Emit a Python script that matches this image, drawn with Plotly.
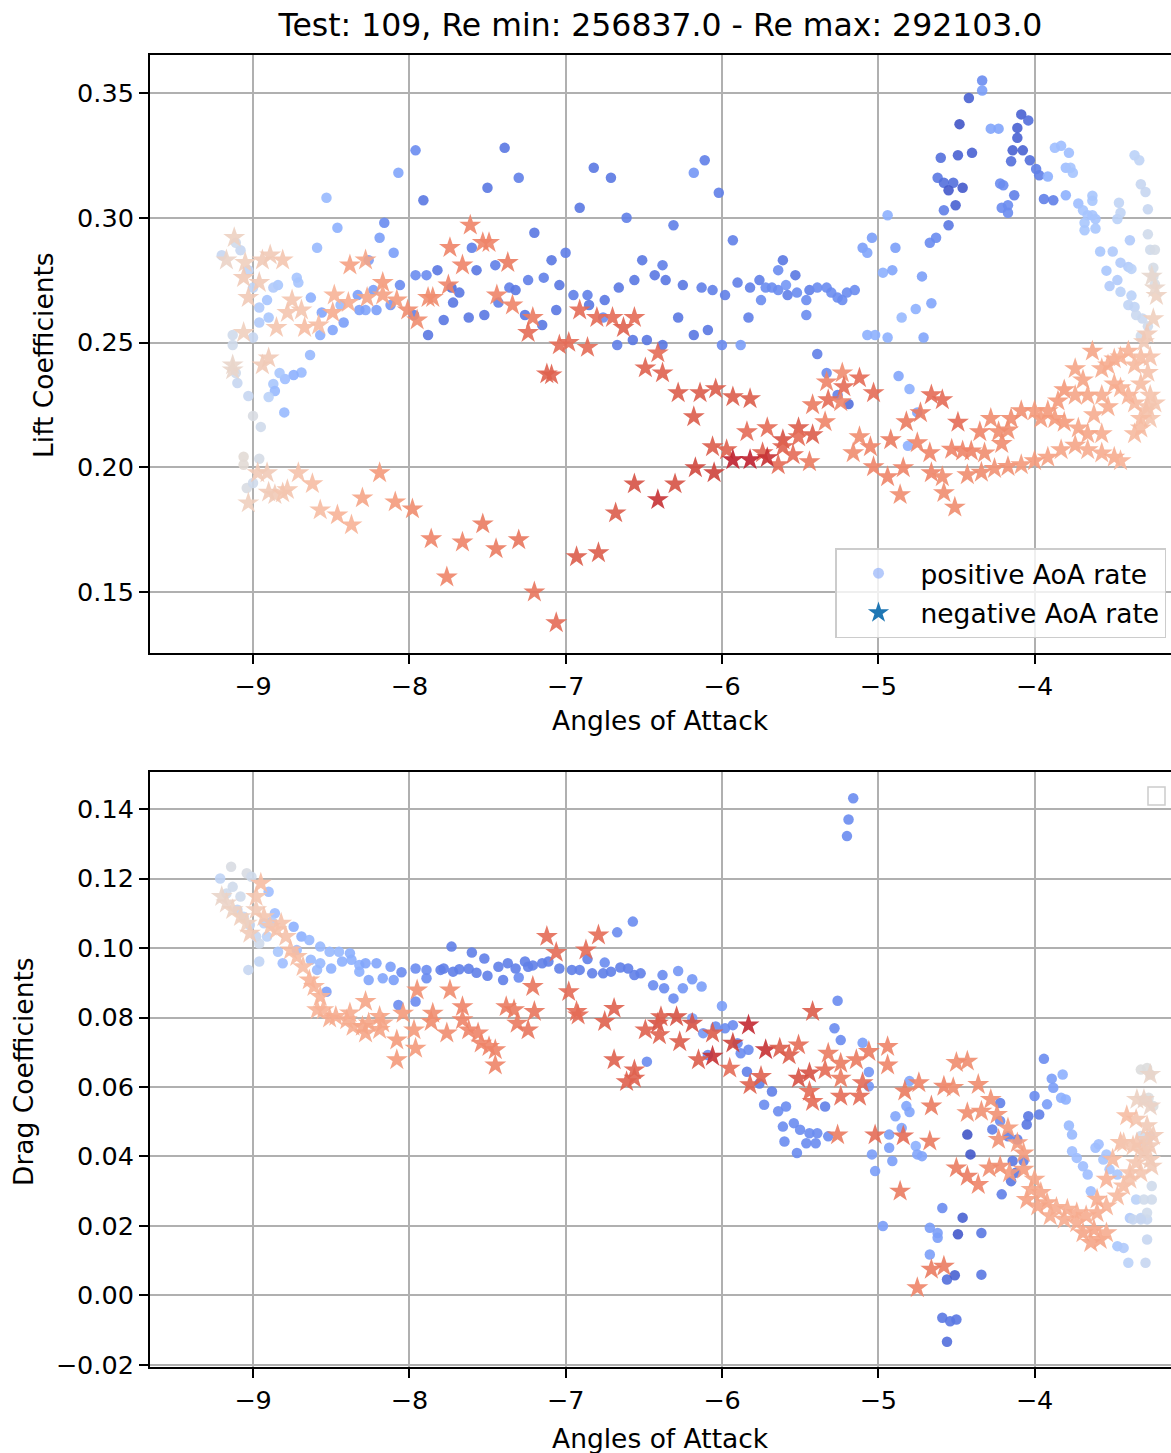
import plotly.graph_objects as go

# ---------------------------------------------------------------------------
# Lift coefficients, positive AoA rate (circles); level = colour-map position
# ---------------------------------------------------------------------------
lift_pos_aoa = [
    -7.96, -8.07, -8.53, -7.91, -7.39, -7.30, -7.50, -7.20, -8.16, -8.46,
    -8.19, -8.10, -8.59, -8.26, -7.60, -7.57, -7.45, -7.82, -7.89, -7.96,
    -8.06, -7.73, -7.68, -7.72, -7.78, -7.62, -7.52, -7.43, -7.36, -7.32,
    -7.24, -7.14, -7.26, -7.15, -7.88, -7.97, -8.23, -8.12, -8.21, -8.28,
    -8.32, -8.33, -8.42, -8.49, -8.57, -8.56, -8.63, -8.72, -8.71, -8.84,
    -8.87, -8.91, -8.96, -8.90, -8.96, -9.03, -9.00, -9.08, -9.11, -9.20,
    -9.13, -9.13, -8.44,
    -6.82, -6.71, -6.91, -6.61, -6.18, -6.11, -6.02, -6.31, -7.00, -7.09,
    -7.04, -7.06, -6.95, -6.86, -6.85, -6.75, -6.76, -6.66, -6.56, -6.51,
    -6.43, -6.38, -6.36, -6.25, -6.28, -6.13, -6.06, -5.98, -5.93, -5.83,
    -5.75, -5.90, -5.82, -5.76, -5.72, -5.68, -5.64, -5.64, -5.61, -5.53,
    -5.59, -5.58, -5.52, -5.46, -5.44, -5.46, -5.39, -5.33, -5.30, -5.26,
    -5.23, -5.20, -5.15, -5.07, -5.02, -4.94, -4.97, -4.91, -4.85, -5.10,
    -5.07, -5.04, -4.89, -4.94, -6.67, -6.57, -6.48, -6.38, -6.18, -6.09,
    -6.00, -5.88,
    -4.335, -4.335, -4.42, -4.48, -4.28, -4.23, -4.085, -4.04, -4.11, -4.11,
    -4.14, -4.075, -4.03, -4.15, -4.60, -4.49, -4.40, -4.62, -4.58, -4.52,
    -4.55, -4.46, -4.505, -4.58, -4.55, -4.67, -4.63, -4.72, -4.66, -4.76,
    -4.71, -4.22, -4.20, -4.13, -4.21, -4.17, -4.17, -3.99, -3.97, -3.915,
    -3.94, -3.88, -3.80, -3.87, -3.83, -3.78, -3.80, -3.77, -3.755, -3.72,
    -3.69, -3.66, -3.63, -3.61, -3.63, -3.63, -3.68, -3.68, -3.61, -3.46,
    -3.47, -3.45, -3.58, -3.50, -3.39, -3.45, -3.40, -3.54, -3.52, -3.47,
    -3.38, -3.45, -3.38, -3.40, -3.36, -3.36, -3.33, -3.32, -3.29, -3.275,
    -3.275, -3.26, -3.23, -3.24, -3.24, -3.23, -3.35, -3.31, -3.275, -3.32,
    -8.635, -8.69, -8.74, -8.795, -8.83, -8.87, -8.86, -8.90, -8.80, -9.10,
    -9.03, -9.00, -8.95, -9.06, -9.06, -8.96, -9.04, -9.00, -9.11, -9.00,
    -5.39, -5.33, -5.26, -5.19, -4.87, -4.80, -4.75, -4.81,
]
lift_pos_cl = [
    0.327, 0.318, 0.308, 0.307, 0.328, 0.316, 0.312, 0.294, 0.298, 0.296,
    0.292, 0.286, 0.288, 0.283, 0.288, 0.279, 0.281, 0.279, 0.277, 0.277,
    0.273, 0.272, 0.270, 0.266, 0.259, 0.260, 0.261, 0.266, 0.272, 0.271,
    0.275, 0.276, 0.261, 0.257, 0.253, 0.261, 0.271, 0.265, 0.263, 0.263,
    0.263, 0.269, 0.258, 0.255, 0.253, 0.262, 0.268, 0.276, 0.274, 0.273,
    0.272, 0.267, 0.264, 0.260, 0.258, 0.279, 0.272, 0.287, 0.290, 0.285,
    0.253, 0.249, 0.265,
    0.320, 0.316, 0.304, 0.300, 0.318, 0.323, 0.310, 0.297, 0.286, 0.283,
    0.273, 0.263, 0.269, 0.269, 0.265, 0.267, 0.260, 0.272, 0.275, 0.283,
    0.277, 0.281, 0.275, 0.273, 0.260, 0.272, 0.271, 0.269, 0.291, 0.260,
    0.267, 0.274, 0.272, 0.275, 0.272, 0.272, 0.271, 0.279, 0.283, 0.277,
    0.273, 0.269, 0.270, 0.267, 0.271, 0.261, 0.272, 0.272, 0.270, 0.268,
    0.267, 0.270, 0.271, 0.253, 0.253, 0.252, 0.278, 0.279, 0.260, 0.288,
    0.286, 0.292, 0.288, 0.301, 0.249, 0.251, 0.251, 0.249, 0.253, 0.255,
    0.249, 0.249,
    0.355, 0.351, 0.348, 0.3375, 0.3357, 0.3357, 0.3414, 0.339, 0.336, 0.332,
    0.327, 0.327, 0.323, 0.3226, 0.324, 0.325, 0.326, 0.316, 0.314, 0.314,
    0.311, 0.312, 0.305, 0.303, 0.297, 0.290, 0.292, 0.2765, 0.2657, 0.2634,
    0.252, 0.3137, 0.313, 0.309, 0.304, 0.305, 0.302, 0.3195, 0.317, 0.3165,
    0.3075, 0.307, 0.309, 0.328, 0.3288, 0.326, 0.320, 0.320, 0.318, 0.3057,
    0.303, 0.301, 0.301, 0.2995, 0.3088, 0.3068, 0.298, 0.295, 0.2957, 0.306,
    0.2995, 0.302, 0.2865, 0.2865, 0.291, 0.282, 0.2803, 0.2788, 0.2726, 0.275,
    0.2795, 0.2703, 0.2688, 0.265, 0.2642, 0.325, 0.323, 0.3134, 0.3103, 0.3034,
    0.2934, 0.2872, 0.2872, 0.280, 0.2765, 0.2734, 0.261, 0.2596, 0.2565, 0.2526,
    0.245, 0.238, 0.237, 0.2354, 0.2378, 0.2334, 0.2306, 0.2282, 0.222, 0.2338,
    0.2286, 0.2206, 0.2162, 0.2042, 0.201, 0.2034, 0.1917, 0.1937, 0.2378, 0.252,
    0.2454, 0.2378, 0.229, 0.2254, 0.2366, 0.2314, 0.222, 0.2086,
]
lift_pos_level = [
    0.15, 0.22, 0.28, 0.10, 0.10, 0.12, 0.10, 0.10, 0.15, 0.25,
    0.20, 0.20, 0.28, 0.20, 0.12, 0.10, 0.12, 0.10, 0.15, 0.15,
    0.15, 0.08, 0.10, 0.10, 0.10, 0.10, 0.10, 0.12, 0.12, 0.10,
    0.12, 0.12, 0.10, 0.10, 0.10, 0.12, 0.20, 0.18, 0.20, 0.22,
    0.20, 0.20, 0.20, 0.22, 0.25, 0.22, 0.25, 0.32, 0.32, 0.33,
    0.35, 0.32, 0.35, 0.33, 0.35, 0.40, 0.40, 0.42, 0.45, 0.42,
    0.45, 0.45, 0.28,
    0.10, 0.10, 0.10, 0.12, 0.18, 0.12, 0.12, 0.12, 0.12, 0.10,
    0.10, 0.10, 0.12, 0.12, 0.10, 0.10, 0.15, 0.10, 0.10, 0.10,
    0.10, 0.12, 0.10, 0.10, 0.10, 0.12, 0.12, 0.12, 0.12, 0.12,
    0.15, 0.12, 0.12, 0.12, 0.15, 0.15, 0.15, 0.15, 0.10, 0.10,
    0.18, 0.12, 0.15, 0.15, 0.12, 0.15, 0.15, 0.15, 0.15, 0.15,
    0.15, 0.15, 0.15, 0.25, 0.25, 0.25, 0.25, 0.22, 0.28, 0.20,
    0.22, 0.20, 0.20, 0.25, 0.12, 0.10, 0.10, 0.10, 0.10, 0.10,
    0.15, 0.20,
    0.15, 0.20, 0.05, 0.02, 0.22, 0.22, 0.05, 0.08, 0.05, 0.05,
    0.05, 0.05, 0.08, 0.08, 0.08, 0.05, 0.05, 0.10, 0.08, 0.08,
    0.03, 0.03, 0.05, 0.12, 0.10, 0.15, 0.15, 0.20, 0.22, 0.25,
    0.22, 0.15, 0.15, 0.12, 0.15, 0.15, 0.15, 0.12, 0.12, 0.25,
    0.12, 0.12, 0.25, 0.30, 0.30, 0.30, 0.30, 0.32, 0.32, 0.30,
    0.32, 0.32, 0.32, 0.32, 0.33, 0.33, 0.33, 0.33, 0.33, 0.40,
    0.38, 0.40, 0.33, 0.35, 0.35, 0.35, 0.35, 0.33, 0.35, 0.35,
    0.38, 0.38, 0.38, 0.40, 0.40, 0.38, 0.40, 0.42, 0.42, 0.42,
    0.45, 0.45, 0.47, 0.47, 0.48, 0.48, 0.43, 0.43, 0.45, 0.45,
    0.28, 0.28, 0.25, 0.30, 0.33, 0.33, 0.28, 0.38, 0.28, 0.42,
    0.42, 0.48, 0.45, 0.52, 0.52, 0.47, 0.48, 0.45, 0.45, 0.42,
    0.12, 0.15, 0.12, 0.08, 0.22, 0.25, 0.22, 0.25,
]

# ---------------------------------------------------------------------------
# Lift coefficients, negative AoA rate (stars)
# ---------------------------------------------------------------------------
lift_neg_aoa = [
    -7.61, -7.74, -7.53, -7.49, -7.66, -7.37, -7.44, -7.34, -7.21, -7.24,
    -7.75, -7.85, -7.88, -7.95, -8.01, -8.08, -8.17, -8.17, -8.27, -8.38,
    -8.28, -8.39, -8.48, -8.49, -8.58, -8.67, -8.85, -8.75, -8.69, -8.78,
    -8.94, -8.81, -8.89, -9.05, -9.06, -8.96, -9.03, -9.12, -9.17, -9.06,
    -6.91, -6.80, -6.70, -6.63, -6.56, -7.04, -6.98, -6.86,
    -7.09, -6.49, -6.38, -6.41, -6.28, -6.14, -6.04, -5.93, -5.82, -6.18,
    -5.84, -5.71, -5.61, -5.51, -5.42, -5.51, -6.06, -5.97, -5.74, -5.61,
    -5.545, -5.44, -5.64, -5.93, -5.82, -5.71, -6.17, -6.05, -6.30, -6.41,
    -6.56, -6.68, -6.79, -6.93, -5.42, -5.34, -5.33, -5.23, -5.22, -5.12,
    -5.03, -5.32, -5.24, -5.12, -5.16, -5.05, -4.92, -4.82, -4.73, -4.75,
    -4.67, -4.66, -4.59, -5.03, -4.94, -4.84, -4.86, -4.66, -4.59, -4.58,
    -7.06,
    -9.13, -9.13, -8.94, -8.90, -8.91, -8.97, -8.71, -8.62, -8.90, -8.86,
    -8.81, -8.78, -9.03, -8.57, -8.46, -8.37, -8.30, -8.19, -8.09, -7.98,
    -7.86, -7.66, -7.53, -7.445, -7.30, -7.76, -7.20, -7.12,
    -3.63, -3.74, -3.69, -3.81, -3.74, -3.57, -3.53, -3.49, -3.45, -3.40,
    -3.36, -3.32, -3.26, -3.30, -3.28, -3.24, -3.22, -3.23, -3.25, -3.275,
    -3.32, -3.26, -3.285, -3.26, -3.32, -3.36, -3.40, -3.45, -3.49, -3.66,
    -3.57, -3.53, -3.62, -3.85, -3.915, -3.96, -3.87, -4.00, -4.085, -4.15,
    -4.23, -4.17, -4.21, -4.28, -4.35, -4.405, -4.32, -4.46, -4.53, -4.49,
    -4.51, -4.43, -4.34, -4.256, -4.17, -4.085, -4.00, -3.915, -3.83, -3.74,
    -3.66, -3.57, -3.49, -3.45, -3.36, -3.32, -3.275, -3.23, -3.81, -3.72,
    -3.57, -3.66,
]
lift_neg_cl = [
    0.297, 0.288, 0.290, 0.290, 0.281, 0.282, 0.269, 0.265, 0.260, 0.254,
    0.273, 0.268, 0.268, 0.259, 0.263, 0.267, 0.274, 0.269, 0.268, 0.281,
    0.283, 0.266, 0.269, 0.262, 0.257, 0.256, 0.256, 0.267, 0.263, 0.262,
    0.283, 0.283, 0.285, 0.282, 0.276, 0.274, 0.268, 0.292, 0.283, 0.254,
    0.263, 0.260, 0.260, 0.256, 0.260, 0.249, 0.250, 0.248,
    0.237, 0.2398, 0.2378, 0.2458, 0.2298, 0.2298, 0.2314, 0.2282, 0.2274, 0.2202,
    0.2142, 0.2158, 0.211, 0.2158, 0.213, 0.2122, 0.2082, 0.207, 0.2058, 0.2082,
    0.205, 0.2022, 0.201, 0.203, 0.203, 0.2038, 0.1998, 0.1978, 0.1933, 0.187,
    0.1933, 0.1817, 0.1657, 0.1641, 0.225, 0.2182, 0.2342, 0.2378, 0.2322, 0.2358,
    0.2298, 0.227, 0.2262, 0.2122, 0.2058, 0.2082, 0.211, 0.2182, 0.2218, 0.2098,
    0.2058, 0.229, 0.227, 0.2002, 0.1962, 0.1998, 0.189, 0.1978, 0.1962, 0.1898,
    0.1377,
    0.241, 0.239, 0.241, 0.2438, 0.1978, 0.1978, 0.1978, 0.1934, 0.190, 0.189,
    0.1897, 0.191, 0.1857, 0.1829, 0.1809, 0.1769, 0.1877, 0.1978, 0.1861, 0.1833,
    0.1713, 0.170, 0.1773, 0.1673, 0.1709, 0.156, 0.150, 0.2374,
    0.2465, 0.2395, 0.235, 0.231, 0.2288, 0.2395, 0.241, 0.2434, 0.2442, 0.2465,
    0.241, 0.2442, 0.2442, 0.2503, 0.2534, 0.2595, 0.2688, 0.2718, 0.2765, 0.238,
    0.2334, 0.2288, 0.2226, 0.2195, 0.2157, 0.2257, 0.2288, 0.2318, 0.2334, 0.2288,
    0.2288, 0.2242, 0.221, 0.2265, 0.2226, 0.2195, 0.2195, 0.2226, 0.2226, 0.2195,
    0.2142, 0.2149, 0.2095, 0.2195, 0.2142, 0.2065, 0.2057, 0.2065, 0.2072, 0.218,
    0.184, 0.197, 0.198, 0.1995, 0.2003, 0.201, 0.2026, 0.204, 0.207, 0.2088,
    0.207, 0.2057, 0.204, 0.2026, 0.2134, 0.2195, 0.2242, 0.2257, 0.218, 0.2157,
    0.2134, 0.2134,
]
lift_neg_level = [
    0.80, 0.80, 0.80, 0.80, 0.80, 0.82, 0.80, 0.80, 0.82, 0.85,
    0.80, 0.78, 0.78, 0.78, 0.78, 0.75, 0.75, 0.73, 0.72, 0.73,
    0.72, 0.70, 0.68, 0.70, 0.65, 0.65, 0.62, 0.62, 0.62, 0.62,
    0.60, 0.62, 0.60, 0.58, 0.60, 0.60, 0.60, 0.57, 0.56, 0.58,
    0.85, 0.85, 0.85, 0.87, 0.85, 0.85, 0.85, 0.85,
    0.87, 0.87, 0.87, 0.85, 0.88, 0.88, 0.88, 0.88, 0.88, 0.88,
    0.85, 0.85, 0.90, 0.88, 0.88, 0.85, 0.88, 0.87, 0.87, 0.87,
    0.85, 0.82, 0.85, 0.97, 0.97, 0.95, 0.92, 0.93, 0.90, 0.95,
    0.90, 0.88, 0.88, 0.88, 0.82, 0.80, 0.80, 0.78, 0.85, 0.85,
    0.85, 0.85, 0.80, 0.78, 0.78, 0.80, 0.82, 0.82, 0.82, 0.80,
    0.80, 0.85, 0.85, 0.80, 0.80, 0.80, 0.78, 0.80, 0.78, 0.78,
    0.85,
    0.55, 0.55, 0.60, 0.60, 0.60, 0.60, 0.63, 0.65, 0.60, 0.60,
    0.62, 0.62, 0.58, 0.65, 0.68, 0.68, 0.72, 0.75, 0.75, 0.78,
    0.80, 0.80, 0.82, 0.82, 0.83, 0.80, 0.83, 0.87,
    0.72, 0.72, 0.72, 0.75, 0.72, 0.70, 0.70, 0.70, 0.68, 0.68,
    0.66, 0.65, 0.63, 0.60, 0.60, 0.58, 0.57, 0.55, 0.54, 0.63,
    0.65, 0.63, 0.63, 0.62, 0.65, 0.66, 0.68, 0.68, 0.70, 0.72,
    0.70, 0.70, 0.70, 0.75, 0.75, 0.75, 0.75, 0.75, 0.77, 0.78,
    0.78, 0.78, 0.78, 0.78, 0.80, 0.80, 0.78, 0.80, 0.80, 0.85,
    0.78, 0.78, 0.78, 0.77, 0.77, 0.75, 0.75, 0.73, 0.72, 0.72,
    0.70, 0.70, 0.70, 0.68, 0.66, 0.65, 0.63, 0.62, 0.75, 0.72,
    0.70, 0.72,
]

# ---------------------------------------------------------------------------
# Drag coefficients, positive AoA rate (circles)
# ---------------------------------------------------------------------------
drag_pos_aoa = [
    -9.21, -9.14, -9.04, -9.13, -9.17, -9.08, -9.01, -9.10, -9.06, -9.02,
    -8.98, -8.96, -8.90, -8.86, -8.88, -8.93, -8.91, -8.96, -9.03, -8.84,
    -8.81, -8.74, -8.69, -8.72, -8.64, -8.63, -8.57, -8.51, -8.45, -8.59,
    -8.57, -8.50, -8.43, -8.38, -8.37, -8.32, -8.28, -8.32, -8.26, -8.21,
    -8.17, -8.12, -8.10, -8.05, -7.96, -7.89, -7.89, -7.80, -7.78, -7.72,
    -7.68, -7.62, -7.57, -7.50, -7.43, -7.40, -7.37, -7.32, -7.30, -7.26,
    -7.24, -7.21, -7.15, -7.11, -7.73, -7.60, -7.52, -8.53, -8.07, -7.96,
    -5.16, -5.19, -5.20, -6.57, -6.67, -6.86, -6.75, -6.71, -6.65, -6.60,
    -6.56, -6.52, -6.44, -6.38, -6.37, -6.31, -6.28, -6.25, -6.19, -6.13,
    -7.04, -6.96, -6.91, -6.83, -6.76, -6.48, -6.00, -6.19, -6.12, -6.09,
    -6.04, -5.98, -5.93, -5.90, -5.88, -5.83, -5.84, -5.76, -5.26, -5.28,
    -5.24,
    -5.68, -5.73, -5.64, -5.59, -5.61, -5.54, -5.50, -5.44, -5.39, -5.32,
    -5.34, -5.46, -5.40, -5.60, -5.52,
    -4.97, -4.93, -4.91, -4.93, -4.89, -4.85, -4.82, -4.80, -4.80, -4.76,
    -4.75, -4.72, -5.10, -5.06, -5.06, -5.04, -5.02, -4.59, -4.67, -4.62,
    -4.62, -4.67, -4.56, -4.51, -4.46, -4.49, -4.34, -4.34, -4.43, -4.41,
    -4.59, -4.54, -4.50, -4.56, -4.27, -4.22, -4.22, -4.17, -4.11, -4.14,
    -4.12, -4.15, -4.21, -4.07, -4.05, -4.04, -4.00, -3.97, -3.94, -3.92,
    -3.89, -3.88, -3.82, -3.83, -3.80, -3.78, -3.76, -3.76, -3.73, -3.69,
    -3.66, -3.64, -3.61, -3.59, -3.54, -3.56, -3.52, -3.47, -3.47, -3.43,
    -3.40, -3.39, -3.35, -3.32, -3.29, -3.28, -3.28, -3.30, -3.26, -3.32,
    -3.28, -3.26, -3.30, -3.27, -3.24, -3.32, -3.25, -3.30, -3.25, -3.28,
    -3.32, -3.37,
]
drag_pos_cd = [
    0.1200, 0.1234, 0.1215, 0.1176, 0.1157, 0.1148, 0.1205, 0.1110, 0.1090, 0.1066,
    0.1033, 0.1013, 0.1162, 0.1100, 0.1076, 0.1071, 0.1033, 0.0961, 0.0937, 0.0989,
    0.0956, 0.1061, 0.1033, 0.0994, 0.1023, 0.0966, 0.1004, 0.0989, 0.0989, 0.0937,
    0.0956, 0.0941, 0.0961, 0.0985, 0.0966, 0.0951, 0.0956, 0.0932, 0.0908, 0.0956,
    0.0913, 0.0946, 0.0908, 0.0930, 0.0941, 0.0937, 0.0913, 0.0937, 0.0941, 0.0932,
    0.0939, 0.0940, 0.0929, 0.0920, 0.0946, 0.0908, 0.0956, 0.0941, 0.0915, 0.0961,
    0.0946, 0.0950, 0.0956, 0.0961, 0.1004, 0.0987, 0.0970, 0.0874, 0.0836, 0.0846,
    0.1431, 0.1370, 0.1322, 0.1076, 0.1045, 0.0968, 0.0958, 0.0932, 0.0944, 0.0941,
    0.0922, 0.0927, 0.0893, 0.0922, 0.0884, 0.0855, 0.0934, 0.0884, 0.0910, 0.0889,
    0.0941, 0.0937, 0.0937, 0.0927, 0.0927, 0.0673, 0.0833, 0.0798, 0.0755, 0.0692,
    0.0774, 0.0769, 0.0778, 0.0726, 0.0697, 0.0707, 0.0644, 0.0610, 0.0848, 0.0769,
    0.0735,
    0.0587, 0.0549, 0.0530, 0.0544, 0.0486, 0.0496, 0.0477, 0.0467, 0.0467, 0.0458,
    0.0544, 0.0438, 0.0438, 0.0443, 0.0410,
    0.0200, 0.0425, 0.0387, 0.0463, 0.0516, 0.0482, 0.0545, 0.0528, 0.0617, 0.0430,
    0.0406, 0.0401, 0.0727, 0.0643, 0.0602, 0.0406, 0.0358, 0.0252, 0.0195, 0.0180,
    0.0166, 0.0118, 0.0046, 0.0058, 0.0224, 0.0176, 0.0180, 0.0060, 0.0463, 0.0406,
    -0.0064, -0.0074, -0.0069, -0.0133, 0.0478, 0.0502, 0.0554, 0.0458, 0.0449, 0.0387,
    0.0353, 0.0329, 0.0291, 0.0387, 0.0492, 0.0516, 0.0574, 0.0521, 0.0681, 0.0550,
    0.0624, 0.0598, 0.0636, 0.0569, 0.0564, 0.0489, 0.0463, 0.0415, 0.0396, 0.0372,
    0.0348, 0.0300, 0.0425, 0.0435, 0.0406, 0.0391, 0.0363, 0.0348, 0.0142, 0.0137,
    0.0094, 0.0223, 0.0276, 0.0223, 0.0094, 0.0161, 0.0219, 0.0439, 0.0459, 0.0650,
    0.0655, 0.0636, 0.0564, 0.0569, 0.0545, 0.0459, 0.0315, 0.0276, 0.0276, 0.0238,
    0.0219, 0.0219,
]
drag_pos_level = [
    0.40, 0.48, 0.48, 0.45, 0.45, 0.45, 0.45, 0.40, 0.42, 0.42,
    0.42, 0.45, 0.30, 0.30, 0.35, 0.38, 0.38, 0.40, 0.42, 0.33,
    0.30, 0.25, 0.25, 0.30, 0.28, 0.28, 0.28, 0.28, 0.28, 0.28,
    0.28, 0.25, 0.25, 0.25, 0.25, 0.25, 0.22, 0.25, 0.22, 0.22,
    0.22, 0.20, 0.20, 0.15, 0.15, 0.15, 0.15, 0.12, 0.12, 0.12,
    0.12, 0.12, 0.12, 0.12, 0.12, 0.12, 0.12, 0.12, 0.15, 0.12,
    0.12, 0.12, 0.12, 0.12, 0.12, 0.12, 0.12, 0.20, 0.15, 0.15,
    0.15, 0.15, 0.15, 0.15, 0.15, 0.12, 0.15, 0.12, 0.12, 0.12,
    0.12, 0.12, 0.15, 0.15, 0.15, 0.15, 0.18, 0.18, 0.18, 0.20,
    0.12, 0.12, 0.12, 0.12, 0.12, 0.15, 0.20, 0.20, 0.18, 0.15,
    0.15, 0.15, 0.15, 0.15, 0.15, 0.15, 0.12, 0.12, 0.15, 0.15,
    0.15,
    0.12, 0.15, 0.15, 0.15, 0.15, 0.15, 0.15, 0.15, 0.15, 0.15,
    0.12, 0.15, 0.15, 0.15, 0.15,
    0.20, 0.20, 0.20, 0.20, 0.22, 0.22, 0.22, 0.22, 0.22, 0.25,
    0.22, 0.22, 0.20, 0.18, 0.18, 0.20, 0.20, 0.15, 0.20, 0.20,
    0.20, 0.20, 0.08, 0.05, 0.05, 0.03, 0.10, 0.10, 0.02, 0.03,
    0.10, 0.10, 0.10, 0.08, 0.12, 0.15, 0.12, 0.12, 0.12, 0.10,
    0.10, 0.10, 0.12, 0.12, 0.10, 0.10, 0.15, 0.12, 0.15, 0.20,
    0.20, 0.20, 0.25, 0.25, 0.25, 0.28, 0.28, 0.30, 0.30, 0.30,
    0.30, 0.30, 0.30, 0.30, 0.32, 0.32, 0.32, 0.33, 0.33, 0.35,
    0.38, 0.35, 0.38, 0.40, 0.42, 0.42, 0.42, 0.40, 0.40, 0.50,
    0.50, 0.50, 0.50, 0.50, 0.50, 0.45, 0.45, 0.45, 0.45, 0.45,
    0.42, 0.42,
]

# ---------------------------------------------------------------------------
# Drag coefficients, negative AoA rate (stars)
# ---------------------------------------------------------------------------
drag_neg_aoa = [
    -9.20, -9.17, -9.13, -9.08, -9.04, -9.02, -8.98, -8.95, -8.98, -8.93,
    -8.89, -8.85, -8.82, -8.79, -8.76, -8.72, -8.68, -8.64, -8.61, -8.57,
    -8.59, -8.55, -8.51, -8.47, -8.40, -8.36, -8.38, -8.30, -8.28, -8.26,
    -8.19, -8.17, -8.19, -8.28, -8.08, -8.08, -7.97, -7.96, -8.04, -7.95,
    -7.85, -7.86, -7.76, -7.74, -7.66, -7.66, -7.62, -7.56, -7.54, -7.49,
    -7.45, -7.45, -7.38, -7.33, -7.31, -7.24, -7.21, -7.20, -7.12,
    -7.06, -6.87, -6.79, -6.98, -6.92, -6.69, -6.75, -6.49, -6.41, -6.40,
    -6.27, -6.69, -6.56, -6.61, -6.39, -6.29, -6.19, -6.06, -6.06, -5.93,
    -5.83, -5.72, -5.63, -5.57, -5.51, -5.44, -5.42, -5.32, -5.24, -5.14,
    -5.06, -4.94, -4.94, -5.34, -5.24, -5.51, -6.56, -6.15, -5.95, -5.82,
    -5.75, -5.44, -5.42, -5.24, -5.12, -5.02, -5.26, -6.93,
    -5.10, -4.83, -4.74, -4.66, -4.84, -4.67, -4.86, -4.58, -4.50, -4.43,
    -4.52, -4.36, -4.43, -4.34, -4.28, -4.24, -4.23, -4.17, -4.11, -4.50,
    -4.43, -4.36, -4.29, -4.22, -4.16, -4.07, -4.05, -4.66, -4.58, -4.75,
    -4.00, -3.96, -3.92, -3.86, -3.79, -3.73, -3.67, -3.60, -3.54, -3.47,
    -3.43, -3.39, -3.35, -3.30, -3.26, -3.24, -3.28, -3.35, -3.41, -3.45,
    -3.50, -3.54, -3.60, -3.69, -3.64, -3.58, -3.54, -3.62, -3.73, -3.81,
    -3.90, -3.98, -4.02, -4.07, -3.345, -3.30, -3.26, -3.26, -3.43, -3.37,
    -3.30, -3.26, -3.25, -3.32, -3.39, -3.345, -3.28,
]
drag_neg_cd = [
    0.1148, 0.1129, 0.1110, 0.1090, 0.1071, 0.1042, 0.1148, 0.1186, 0.1110, 0.1090,
    0.1062, 0.1052, 0.1071, 0.1033, 0.0994, 0.0975, 0.0946, 0.0908, 0.0889, 0.0860,
    0.0822, 0.0822, 0.0798, 0.0803, 0.0793, 0.0774, 0.0813, 0.0774, 0.0755, 0.0784,
    0.0803, 0.0784, 0.0765, 0.0846, 0.0735, 0.0678, 0.0764, 0.0711, 0.0812, 0.0879,
    0.0812, 0.0788, 0.0755, 0.0879, 0.0831, 0.0793, 0.0764, 0.0755, 0.0726, 0.0716,
    0.0707, 0.0663, 0.0831, 0.0822, 0.0783, 0.0764, 0.0889, 0.0817, 0.1033,
    0.0987, 0.0994, 0.1037, 0.0874, 0.0807, 0.0826, 0.0788, 0.0764, 0.0783, 0.0750,
    0.0730, 0.0678, 0.0649, 0.0615, 0.0802, 0.0802, 0.0783, 0.0755, 0.0688, 0.0726,
    0.0778, 0.0707, 0.0711, 0.0692, 0.0721, 0.0640, 0.0817, 0.0697, 0.0668, 0.0678,
    0.0702, 0.0716, 0.0663, 0.0649, 0.0625, 0.0625, 0.0625, 0.0678, 0.0654, 0.0606,
    0.0630, 0.0587, 0.0558, 0.0573, 0.0573, 0.0462, 0.0462, 0.0817,
    0.0612, 0.0588, 0.0612, 0.0545, 0.0459, 0.0444, 0.0300, 0.0602, 0.0670, 0.0674,
    0.0598, 0.0607, 0.0526, 0.0530, 0.0564, 0.0521, 0.0449, 0.0482, 0.0439, 0.0367,
    0.0343, 0.0319, 0.0367, 0.0372, 0.0353, 0.0363, 0.0276, 0.0075, 0.0084, 0.0022,
    0.0334, 0.0296, 0.0267, 0.0253, 0.0248, 0.0238, 0.0229, 0.0238, 0.0257, 0.0286,
    0.0315, 0.0353, 0.0382, 0.0411, 0.0431, 0.0460, 0.0488, 0.0507, 0.0517, 0.0440,
    0.0392, 0.0334, 0.0277, 0.0180, 0.0152, 0.0161, 0.0180, 0.0190, 0.0209, 0.0219,
    0.0229, 0.0257, 0.0305, 0.0410, 0.0564, 0.0564, 0.0545, 0.0636, 0.0439, 0.0430,
    0.0420, 0.0391, 0.0372, 0.0353, 0.0334, 0.0439, 0.0449,
]
drag_neg_level = [
    0.55, 0.56, 0.57, 0.58, 0.58, 0.60, 0.62, 0.65, 0.60, 0.62,
    0.62, 0.63, 0.63, 0.63, 0.65, 0.65, 0.65, 0.68, 0.68, 0.68,
    0.68, 0.68, 0.70, 0.70, 0.70, 0.70, 0.70, 0.72, 0.72, 0.72,
    0.72, 0.72, 0.72, 0.72, 0.75, 0.75, 0.75, 0.75, 0.75, 0.77,
    0.78, 0.78, 0.78, 0.78, 0.80, 0.80, 0.80, 0.80, 0.80, 0.80,
    0.80, 0.80, 0.82, 0.82, 0.82, 0.83, 0.83, 0.83, 0.85,
    0.85, 0.85, 0.85, 0.85, 0.85, 0.87, 0.87, 0.87, 0.90, 0.87,
    0.88, 0.87, 0.87, 0.87, 0.88, 0.90, 0.90, 0.88, 0.95, 0.93,
    0.96, 0.95, 0.88, 0.88, 0.85, 0.90, 0.88, 0.82, 0.82, 0.82,
    0.82, 0.80, 0.80, 0.85, 0.82, 0.90, 0.87, 0.88, 0.85, 0.87,
    0.87, 0.85, 0.85, 0.85, 0.85, 0.85, 0.82, 0.85,
    0.85, 0.82, 0.80, 0.82, 0.85, 0.82, 0.82, 0.80, 0.78, 0.78,
    0.78, 0.78, 0.78, 0.77, 0.77, 0.77, 0.77, 0.75, 0.75, 0.82,
    0.82, 0.80, 0.78, 0.78, 0.75, 0.75, 0.73, 0.82, 0.82, 0.80,
    0.72, 0.72, 0.72, 0.70, 0.70, 0.70, 0.70, 0.70, 0.68, 0.66,
    0.65, 0.63, 0.62, 0.62, 0.60, 0.60, 0.60, 0.62, 0.65, 0.65,
    0.66, 0.68, 0.70, 0.72, 0.72, 0.72, 0.70, 0.72, 0.70, 0.70,
    0.70, 0.72, 0.72, 0.75, 0.57, 0.56, 0.56, 0.55, 0.62, 0.62,
    0.60, 0.60, 0.60, 0.62, 0.63, 0.62, 0.60,
]

# Axis ticks
aoa_ticks = [-9, -8, -7, -6, -5, -4]
lift_ticks = [0.15, 0.20, 0.25, 0.30, 0.35]
drag_ticks = [-0.02, 0.00, 0.02, 0.04, 0.06, 0.08, 0.10, 0.12, 0.14]

TITLE = "Test: 109, Re min: 256837.0 - Re max: 292103.0"

# Diverging blue-white-red colour map (cool-warm)
COOLWARM = [
    [0.0, "rgb(59,76,192)"], [0.0625, "rgb(77,104,215)"],
    [0.125, "rgb(98,130,234)"], [0.1875, "rgb(119,154,247)"],
    [0.25, "rgb(141,176,254)"], [0.3125, "rgb(163,194,255)"],
    [0.375, "rgb(184,208,249)"], [0.4375, "rgb(204,217,238)"],
    [0.5, "rgb(221,221,221)"], [0.5625, "rgb(236,211,197)"],
    [0.625, "rgb(245,196,173)"], [0.6875, "rgb(247,177,148)"],
    [0.75, "rgb(244,154,123)"], [0.8125, "rgb(236,127,99)"],
    [0.875, "rgb(222,96,77)"], [0.9375, "rgb(203,62,56)"],
    [1.0, "rgb(180,4,38)"],
]

FONT = "DejaVu Sans"
W, H = 1171, 1453
L, R, T, B = 150, 0, 55, 86
PLOT_H = H - T - B


def py(pix):
    """Vertical pixel position (from top) to paper fraction."""
    return (H - B - pix) / PLOT_H


def px(pix):
    """Horizontal pixel position to paper fraction."""
    return (pix - L) / (W - L - R)


def minus(v, fmt):
    return (fmt % v).replace("-", "\u2212")


fig = go.Figure()


def add_points(x, y, level, symbol, size, axis):
    fig.add_trace(go.Scatter(
        x=x, y=y, mode="markers", showlegend=False, hoverinfo="skip",
        xaxis="x" if axis == 1 else "x2", yaxis="y" if axis == 1 else "y2",
        marker=dict(symbol=symbol, size=size, color=level, colorscale=COOLWARM,
                    cmin=0, cmax=1, opacity=0.9, line=dict(width=0)),
    ))


add_points(lift_pos_aoa, lift_pos_cl, lift_pos_level, "circle", 10.5, 1)
add_points(lift_neg_aoa, lift_neg_cl, lift_neg_level, "star", 16.5, 1)
add_points(drag_pos_aoa, drag_pos_cd, drag_pos_level, "circle", 10.5, 2)
add_points(drag_neg_aoa, drag_neg_cd, drag_neg_level, "star", 16.5, 2)

# Legend entries
fig.add_trace(go.Scatter(
    x=[None], y=[None], mode="markers", name="positive AoA rate",
    legendgroup="a", marker=dict(symbol="circle", size=11,
                                 color="rgba(150,180,250,0.7)", line=dict(width=0)),
))
fig.add_trace(go.Scatter(
    x=[None], y=[None], mode="markers", name="negative AoA rate",
    legendgroup="b", marker=dict(symbol="star", size=16, color="#1f77b4",
                                 line=dict(width=0)),
))

axis_common = dict(
    showgrid=True, gridcolor="#b0b0b0", gridwidth=2, zeroline=False,
    showline=True, linecolor="black", linewidth=2,
    ticks="outside", ticklen=9, tickwidth=2, tickcolor="black",
    tickfont=dict(family=FONT, size=25.5, color="black"),
)

x_range = [-9.659, -3.127]
xt = dict(tickmode="array", tickvals=aoa_ticks,
          ticktext=[minus(v, "%d") for v in aoa_ticks])

top_lo, bot_hi = py(653), py(772)

fig.update_layout(
    width=W, height=H, autosize=False,
    margin=dict(l=L, r=R, t=T, b=B, pad=0),
    paper_bgcolor="white", plot_bgcolor="white",
    font=dict(family=FONT, color="black"),
    xaxis=dict(domain=[0, 1], anchor="y", range=x_range, mirror=True, **xt, **axis_common),
    yaxis=dict(domain=[top_lo, 1], anchor="x", range=[0.1256, 0.3652],
               tickmode="array", tickvals=lift_ticks,
               ticktext=["%.2f" % v for v in lift_ticks], **axis_common),
    xaxis2=dict(domain=[0, 1], anchor="y2", range=x_range, mirror=True, **xt, **axis_common),
    yaxis2=dict(domain=[0, bot_hi], anchor="x2", range=[-0.02058, 0.15065],
                tickmode="array", tickvals=drag_ticks,
                ticktext=[minus(v, "%.2f") for v in drag_ticks], **axis_common),
    title=dict(text=TITLE, x=0.5, xref="paper", xanchor="center",
               y=1 - 25 / H, yref="container", yanchor="middle",
               font=dict(family=FONT, size=31.5, color="black")),
    legend=dict(x=px(1166), xanchor="right", y=py(638), yanchor="bottom",
                bgcolor="rgba(255,255,255,0.8)", bordercolor="#cccccc", borderwidth=1.5,
                font=dict(family=FONT, size=26.5, color="black"),
                tracegroupgap=2, itemwidth=74),
    showlegend=True,
)

label_font = dict(family=FONT, size=26.5, color="black")
annotations = [
    dict(text="Angles of Attack", x=0.5, y=py(720), xref="paper", yref="paper",
         showarrow=False, xanchor="center", yanchor="middle", font=label_font),
    dict(text="Angles of Attack", x=0.5, y=py(1438), xref="paper", yref="paper",
         showarrow=False, xanchor="center", yanchor="middle", font=label_font),
    dict(text="Lift Coefficients", x=px(43), y=py(355), xref="paper", yref="paper",
         showarrow=False, xanchor="center", yanchor="middle", textangle=-90, font=label_font),
    dict(text="Drag Coefficients", x=px(23), y=py(1072), xref="paper", yref="paper",
         showarrow=False, xanchor="center", yanchor="middle", textangle=-90, font=label_font),
]
fig.update_layout(annotations=annotations)

# Empty legend frame on the drag panel
fig.add_shape(type="rect", xref="paper", yref="paper",
              x0=px(1148), x1=px(1165), y0=py(805), y1=py(787),
              line=dict(color="#cccccc", width=1.5), fillcolor="rgba(255,255,255,0.8)")

fig.write_html("out.html")
